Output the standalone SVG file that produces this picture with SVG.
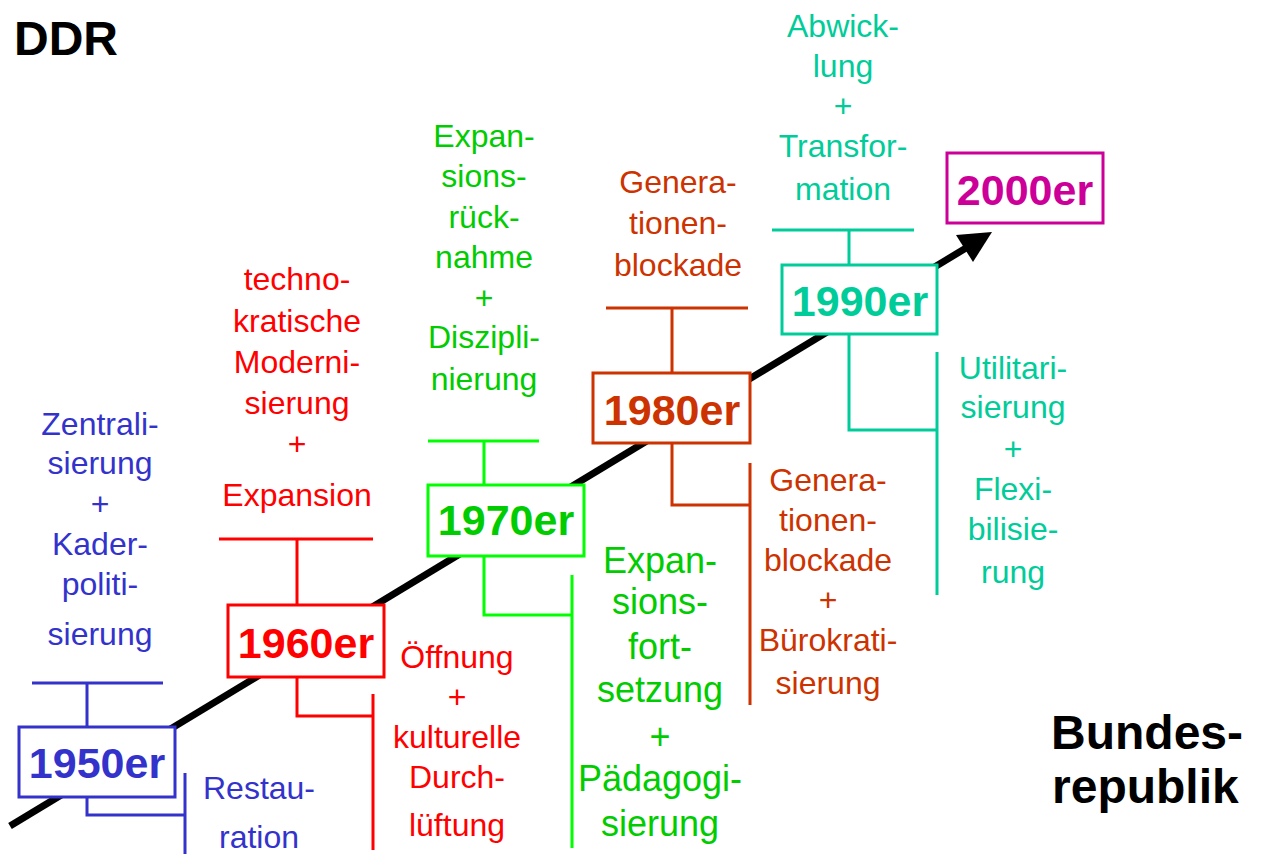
<svg xmlns="http://www.w3.org/2000/svg" width="1266" height="854" viewBox="0 0 1266 854">
  <style>
    .lbl { font-family: "Liberation Sans", Arial, sans-serif; font-size: 32px; text-anchor: middle; }
    .lbl.lg { font-size: 36px; }
    .yr { font-family: "Liberation Sans", Arial, sans-serif; font-size: 43px; font-weight: bold; text-anchor: middle; }
    .big { font-family: "Liberation Sans", Arial, sans-serif; font-weight: bold; fill: #000; }
    .box { fill: #fff; stroke-width: 3; }
    .ln { fill: none; stroke-width: 3; }
    .c50 { stroke: #3333cc; } .t50 { fill: #3333cc; }
    .c60 { stroke: #ff0000; } .t60 { fill: #ff0000; }
    .c70 { stroke: #00ff00; } .t70 { fill: #00cc00; }
    .c80 { stroke: #cc3300; } .t80 { fill: #cc3300; }
    .c90 { stroke: #00cc99; } .t90 { fill: #00cc99; }
    .c00 { stroke: #cc0099; } .t00 { fill: #cc0099; }
  </style>

  <rect width="1266" height="854" fill="#fff"/>

  <!-- time axis -->
  <g id="axis">
    <line x1="10" y1="826" x2="966" y2="248" stroke="#000" stroke-width="7"/>
    <polygon points="992,232 956,235 973,262" fill="#000"/>
  </g>

  <!-- connectors: brackets from each decade box to its labels -->
  <g id="connectors">
    <path class="ln c50" d="M32,683 H163 M87,683 V727 M87,797 V815 H185 M185,773 V854"/>
    <path class="ln c60" d="M219,539 H373 M297,539 V605 M297,677 V716 H373 M373,694 V850"/>
    <path class="ln c70" d="M428,441 H539 M484,441 V485 M484,556 V615 H572 M572,575 V848"/>
    <path class="ln c80" d="M606,308 H748 M672,308 V373 M672,443 V505 H750 M750,463 V705"/>
    <path class="ln c90" d="M772,230 H914 M849,230 V265 M849,334 V430 H937 M937,352 V595"/>
  </g>

  <g id="n1950">
    <rect class="box c50" x="19" y="727" width="156" height="70"/>
    <text class="yr t50" x="97" y="778">1950er</text>
    <text class="lbl t50" x="100"><tspan x="100" y="435">Zentrali-</tspan><tspan x="100" y="474">sierung</tspan><tspan x="100" y="515">+</tspan><tspan x="100" y="555">Kader-</tspan><tspan x="100" y="595">politi-</tspan><tspan x="100" y="645">sierung</tspan></text>
    <text class="lbl t50" x="259"><tspan x="259" y="799">Restau-</tspan><tspan x="259" y="848">ration</tspan></text>
  </g>

  <g id="n1960">
    <rect class="box c60" x="228" y="605" width="156" height="72"/>
    <text class="yr t60" x="306" y="658">1960er</text>
    <text class="lbl t60" x="297"><tspan x="297" y="290">techno-</tspan><tspan x="297" y="332">kratische</tspan><tspan x="297" y="373">Moderni-</tspan><tspan x="297" y="414">sierung</tspan><tspan x="297" y="455">+</tspan><tspan x="297" y="506">Expansion</tspan></text>
    <text class="lbl t60" x="457"><tspan x="457" y="668">Öffnung</tspan><tspan x="457" y="708">+</tspan><tspan x="457" y="748">kulturelle</tspan><tspan x="457" y="788">Durch-</tspan><tspan x="457" y="836">lüftung</tspan></text>
  </g>

  <g id="n1970">
    <rect class="box c70" x="428" y="485" width="156" height="71"/>
    <text class="yr t70" x="506" y="535">1970er</text>
    <text class="lbl t70" x="484"><tspan x="484" y="147">Expan-</tspan><tspan x="484" y="187">sions-</tspan><tspan x="484" y="228">rück-</tspan><tspan x="484" y="268">nahme</tspan><tspan x="484" y="309">+</tspan><tspan x="484" y="348">Diszipli-</tspan><tspan x="484" y="390">nierung</tspan></text>
    <text class="lbl lg t70" x="660"><tspan x="660" y="573">Expan-</tspan><tspan x="660" y="614">sions-</tspan><tspan x="660" y="659">fort-</tspan><tspan x="660" y="702">setzung</tspan><tspan x="660" y="749">+</tspan><tspan x="660" y="791">Pädagogi-</tspan><tspan x="660" y="836">sierung</tspan></text>
  </g>

  <g id="n1980">
    <rect class="box c80" x="593" y="373" width="157" height="70"/>
    <text class="yr t80" x="672" y="425">1980er</text>
    <text class="lbl t80" x="678"><tspan x="678" y="193">Genera-</tspan><tspan x="678" y="234">tionen-</tspan><tspan x="678" y="276">blockade</tspan></text>
    <text class="lbl t80" x="828"><tspan x="828" y="491">Genera-</tspan><tspan x="828" y="531">tionen-</tspan><tspan x="828" y="571">blockade</tspan><tspan x="828" y="611">+</tspan><tspan x="828" y="651">Bürokrati-</tspan><tspan x="828" y="694">sierung</tspan></text>
  </g>

  <g id="n1990">
    <rect class="box c90" x="782" y="265" width="155" height="69"/>
    <text class="yr t90" x="860" y="316">1990er</text>
    <text class="lbl t90" x="843"><tspan x="843" y="37">Abwick-</tspan><tspan x="843" y="77">lung</tspan><tspan x="843" y="117">+</tspan><tspan x="843" y="157">Transfor-</tspan><tspan x="843" y="200">mation</tspan></text>
    <text class="lbl t90" x="1013"><tspan x="1013" y="379">Utilitari-</tspan><tspan x="1013" y="418">sierung</tspan><tspan x="1013" y="460">+</tspan><tspan x="1013" y="500">Flexi-</tspan><tspan x="1013" y="540">bilisie-</tspan><tspan x="1013" y="583">rung</tspan></text>
  </g>

  <g id="n2000">
    <rect class="box c00" x="947" y="153" width="156" height="70"/>
    <text class="yr t00" x="1025" y="205">2000er</text>
  </g>

  <g id="titles">
    <text class="big" x="14" y="55" font-size="48">DDR</text>
    <text class="big" x="1051" y="749" font-size="48">Bundes-</text>
    <text class="big" x="1052" y="803" font-size="48">republik</text>
  </g>
</svg>
